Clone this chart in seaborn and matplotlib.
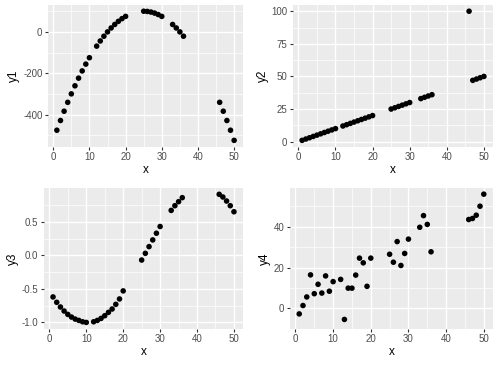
import numpy as np
import pandas as pd
import matplotlib
matplotlib.use("Agg")
import matplotlib.pyplot as plt
import seaborn as sns

# === Data ===
x = [1, 2, 3, 4, 5, 6, 7, 8, 9, 10,
     12, 13, 14, 15, 16, 17, 18, 19, 20,
     25, 26, 27, 28, 29, 30,
     33, 34, 35, 36,
     46, 47, 48, 49, 50]

y1 = [-476, -429, -384, -341, -300, -261, -224, -189, -156, -125,
      -69, -44, -21, 0, 19, 36, 51, 64, 75,
      100, 99, 96, 91, 84, 75,
      36, 19, 0, -21,
      -341, -384, -429, -476, -525]

y2 = [1, 2, 3, 4, 5, 6, 7, 8, 9, 10,
      12, 13, 14, 15, 16, 17, 18, 19, 20,
      25, 26, 27, 28, 29, 30,
      33, 34, 35, 36,
      100, 47, 48, 49, 50]

y3 = [-0.62, -0.70, -0.77, -0.83, -0.88, -0.92, -0.95, -0.97, -0.99, -1.00,
      -0.99, -0.97, -0.94, -0.90, -0.85, -0.80, -0.73, -0.65, -0.53,
      -0.07, 0.03, 0.13, 0.23, 0.33, 0.43,
      0.67, 0.74, 0.80, 0.86,
      0.91, 0.87, 0.81, 0.74, 0.65]

y4 = [-2.7, 1.4, 5.6, 16.4, 7.2, 11.8, 7.5, 15.9, 8.4, 13.1,
      14.2, -5.4, 9.9, 9.9, 16.3, 24.6, 22.3, 10.8, 24.6,
      26.5, 22.6, 32.7, 21.0, 26.9, 33.9,
      39.7, 45.4, 41.1, 27.7,
      43.5, 44.0, 45.6, 50.0, 55.9]

df = pd.DataFrame({"x": x, "y1": y1, "y2": y2, "y3": y3, "y4": y4})

# tick breaks, ggplot-like
x_major = [0, 10, 20, 30, 40, 50]
x_minor = [5, 15, 25, 35, 45]
breaks = {
    "y1": ([-400, -200, 0], ["-400", "-200", "0"], [-500, -300, -100, 100]),
    "y2": ([0, 25, 50, 75, 100], ["0", "25", "50", "75", "100"], [12.5, 37.5, 62.5, 87.5]),
    "y3": ([-1.0, -0.5, 0.0, 0.5], ["-1.0", "-0.5", "0.0", "0.5"], [-0.75, -0.25, 0.25, 0.75]),
    "y4": ([0, 20, 40], ["0", "20", "40"], [-10, 10, 30, 50]),
}

# panel rectangles in figure fractions
panels = {
    "y1": [0.096, 0.600, 0.390, 0.387],
    "y2": [0.586, 0.600, 0.400, 0.387],
    "y3": [0.088, 0.104, 0.398, 0.384],
    "y4": [0.580, 0.104, 0.406, 0.384],
}

plt.rcParams["font.family"] = ["Liberation Sans", "DejaVu Sans"]


def expand(vals, frac=0.05):
    lo, hi = min(vals), max(vals)
    pad = (hi - lo) * frac
    return lo - pad, hi + pad


fig = plt.figure(figsize=(5, 3.67), dpi=100)
fig.patch.set_facecolor("white")

for col, rect in panels.items():
    ax = fig.add_axes(rect)
    ax.set_facecolor("#EBEBEB")
    sns.scatterplot(data=df, x="x", y=col, ax=ax, color="black", s=16,
                    edgecolor="none", zorder=3)
    major, labels, minor = breaks[col]
    ax.set_xlim(*expand(x))
    ax.set_ylim(*expand(df[col]))
    ax.set_xticks(x_major)
    ax.set_xticks(x_minor, minor=True)
    ax.set_yticks(major)
    ax.set_yticklabels(labels)
    ax.set_yticks(minor, minor=True)
    ax.grid(which="major", color="white", linewidth=1.0)
    ax.grid(which="minor", color="white", linewidth=0.5)
    ax.set_axisbelow(True)
    for s in ax.spines.values():
        s.set_visible(False)
    ax.tick_params(which="major", length=2.5, width=0.8, color="#333333",
                   labelcolor="#4D4D4D", labelsize=7, pad=1.5)
    ax.tick_params(which="minor", length=0)
    ax.set_xlabel("x", fontsize=8.5, color="black", labelpad=1.5)
    ax.set_ylabel(col, fontsize=8.5, color="black", labelpad=2)

fig.savefig("out.png", dpi=100)
